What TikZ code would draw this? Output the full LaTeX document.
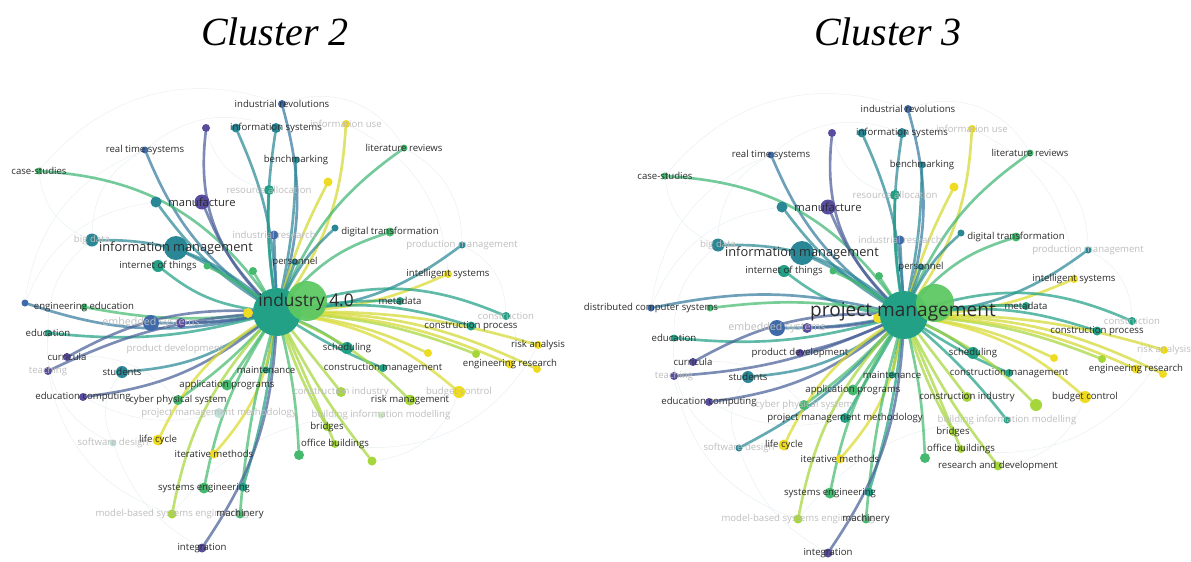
\documentclass[tikz,border=0pt]{standalone}
\usepackage{fontspec}
\setmainfont{Liberation Serif}
\newfontfamily\kwfont{Open Sans}
\usetikzlibrary{backgrounds}
\definecolor{cpurple}{HTML}{574C9E}
\definecolor{cblue}{HTML}{3E6AAA}
\definecolor{cteal}{HTML}{2A8896}
\definecolor{cteal2}{HTML}{21A085}
\definecolor{cgreen}{HTML}{45BA6E}
\definecolor{clime}{HTML}{A5D63A}
\definecolor{cyellow}{HTML}{EFDC22}
\definecolor{chub}{HTML}{22A187}
\definecolor{chubg}{HTML}{5DC863}
\definecolor{cpale}{HTML}{BFDFD9}
\definecolor{cpaleg}{HTML}{D3EBC8}
\definecolor{cweb}{HTML}{EAF0F4}
\definecolor{cfaint}{HTML}{BDBDBD}
\definecolor{ctext}{HTML}{2B2B2B}

\begin{document}
\begin{tikzpicture}[
  x=0.75pt, y=-0.75pt,
  dot/.style={circle, inner sep=0pt, minimum size=#1*0.75pt},
  kw/.style={font=\kwfont\fontsize{7.2}{8}\selectfont, text=ctext, inner sep=0pt},
  faintkw/.style={kw, text=cfaint},
  bigkw/.style={kw, font=\kwfont\fontsize{9.6}{11}\selectfont},
  midkw/.style={kw, font=\kwfont\fontsize{8.4}{10}\selectfont},
  hubkw/.style={kw, font=\kwfont\fontsize{#1}{16}\selectfont},
  kwlink/.style={line width=2pt, opacity=0.72, line cap=round},
  web/.style={line width=0.4pt, draw=cweb},
  clustertitle/.style={font=\itshape\fontsize{30}{34}\selectfont, anchor=base, inner sep=0pt}
]
  \useasboundingbox (0,0) rectangle (1191,561);

  % Titles
  \node[clustertitle] (title-L) at (275,45) {Cluster 2};
  \node[clustertitle] (title-R) at (888,45) {Cluster 3};

  %%%%%%%%%%%%%%%% Cluster 2 %%%%%%%%%%%%%%%%
  % Keyword dots
  \node[dot=10, fill=cyellow] (L-yhub) at (248,313) {};
  \node[dot=48, fill=chub] (L-hub) at (277,312) {};
  \node[dot=40, fill=chubg, opacity=0.95] (L-hubg) at (307,301) {};
  \node[dot=8, fill=cblue] (L-indrev) at (282,104) {};
  \node[dot=8, fill=cpurple] (L-p1) at (206,128) {};
  \node[dot=9, fill=cteal] (L-infsysb) at (236,128) {};
  \node[dot=10, fill=cteal] (L-infsys) at (276,128) {};
  \node[dot=8, fill=cyellow] (L-infuse) at (346,124) {};
  \node[dot=7, fill=cblue] (L-realtime) at (145,150) {};
  \node[dot=7, fill=cgreen] (L-litrev) at (404,148) {};
  \node[dot=7, fill=cgreen] (L-casest) at (39,171) {};
  \node[dot=7, fill=cteal] (L-bench) at (296,160) {};
  \node[dot=9, fill=cyellow] (L-yA) at (328,182) {};
  \node[dot=10, fill=cteal2] (L-resalloc) at (269,190) {};
  \node[dot=11, fill=cteal] (L-manufb) at (156,202) {};
  \node[dot=15, fill=cpurple] (L-manuf) at (202,202) {};
  \node[dot=9, fill=cblue] (L-indres) at (274,235) {};
  \node[dot=7, fill=cteal] (L-digtransb) at (335,228) {};
  \node[dot=9, fill=cgreen] (L-digtrans) at (390,232) {};
  \node[dot=13, fill=cteal] (L-bigdata) at (92,240) {};
  \node[dot=24, fill=cteal] (L-infman) at (176,248) {};
  \node[dot=7, fill=cteal] (L-prodman) at (462,245) {};
  \node[dot=12, fill=cteal2] (L-iot) at (158,266) {};
  \node[dot=7, fill=cgreen] (L-gA) at (207,266) {};
  \node[dot=8, fill=cgreen] (L-gB) at (253,271) {};
  \node[dot=7, fill=cteal] (L-personnel) at (295,262) {};
  \node[dot=8, fill=cyellow] (L-intsys) at (448,274) {};
  \node[dot=8, fill=cteal2] (L-metadata) at (400,301) {};
  \node[dot=8, fill=cteal2] (L-constr) at (506,316) {};
  \node[dot=9, fill=cteal2] (L-conproc) at (471,326) {};
  \node[dot=7, fill=cblue] (L-engedub) at (25,303) {};
  \node[dot=7, fill=cgreen] (L-engedu) at (84,307) {};
  \node[dot=16, fill=cblue] (L-embsys) at (151,323) {};
  \node[dot=10, fill=cpurple] (L-embsysp) at (181,323) {};
  \node[dot=7, fill=cteal2] (L-edu) at (48,333) {};
  \node[dot=12, fill=cteal2] (L-sched) at (347,348) {};
  \node[dot=8, fill=cyellow] (L-riskan) at (538,345) {};
  \node[dot=8, fill=cyellow] (L-yB) at (428,353) {};
  \node[dot=8, fill=clime] (L-gC) at (476,354) {};
  \node[dot=9, fill=cyellow] (L-engres) at (510,364) {};
  \node[dot=8, fill=cyellow] (L-engresb) at (537,369) {};
  \node[dot=8, fill=cpurple] (L-curr) at (67,357) {};
  \node[dot=8, fill=cpurple] (L-teach) at (48,371) {};
  \node[dot=12, fill=cteal] (L-students) at (122,372) {};
  \node[dot=7, fill=cteal2] (L-maint) at (266,370) {};
  \node[dot=8, fill=cteal2] (L-conman) at (383,368) {};
  \node[dot=10, fill=clime] (L-conind) at (341,392) {};
  \node[dot=12, fill=cyellow] (L-budget) at (459,392) {};
  \node[dot=11, fill=cgreen] (L-appprog) at (227,385) {};
  \node[dot=11, fill=clime] (L-riskman) at (410,400) {};
  \node[dot=8, fill=cpurple] (L-educomp) at (83,397) {};
  \node[dot=10, fill=cgreen] (L-cps) at (178,400) {};
  \node[dot=10, fill=cpale] (L-pmm) at (219,413) {};
  \node[dot=7, fill=cpaleg] (L-bim) at (381,415) {};
  \node[dot=7, fill=cpale] (L-softdes) at (113,443) {};
  \node[dot=11, fill=cyellow] (L-lifecycle) at (158,440) {};
  \node[dot=8, fill=clime] (L-bridges) at (327,427) {};
  \node[dot=8, fill=clime] (L-office) at (335,444) {};
  \node[dot=10, fill=cgreen] (L-gD) at (299,455) {};
  \node[dot=9, fill=clime] (L-gE) at (372,461) {};
  \node[dot=9, fill=cyellow] (L-itermeth) at (214,454) {};
  \node[dot=11, fill=cgreen] (L-syseng) at (204,488) {};
  \node[dot=9, fill=cteal2] (L-sysengb) at (243,487) {};
  \node[dot=9, fill=clime] (L-mbse) at (172,514) {};
  \node[dot=9, fill=cgreen] (L-machinery) at (240,514) {};
  \node[dot=9, fill=cpurple] (L-integ) at (202,548) {};

  % Keyword labels
  \node[hubkw=13] (L-hub-t) at (306,302) {industry 4.0};
  \node[kw] (L-indrev-t) at (L-indrev) {industrial revolutions};
  \node[kw] (L-infsys-t) at (L-infsys) {information systems};
  \node[faintkw] (L-infuse-t) at (L-infuse) {information use};
  \node[kw] (L-realtime-t) at (L-realtime) {real time systems};
  \node[kw] (L-litrev-t) at (L-litrev) {literature reviews};
  \node[kw] (L-casest-t) at (L-casest) {case-studies};
  \node[kw] (L-bench-t) at (L-bench) {benchmarking};
  \node[faintkw] (L-resalloc-t) at (L-resalloc) {resource allocation};
  \node[midkw] (L-manuf-t) at (L-manuf) {manufacture};
  \node[faintkw] (L-indres-t) at (L-indres) {industrial research};
  \node[kw] (L-digtrans-t) at (L-digtrans) {digital transformation};
  \node[faintkw] (L-bigdata-t) at (L-bigdata) {big data};
  \node[bigkw] (L-infman-t) at (L-infman) {information management};
  \node[faintkw] (L-prodman-t) at (L-prodman) {production management};
  \node[kw] (L-iot-t) at (L-iot) {internet of things};
  \node[kw] (L-personnel-t) at (L-personnel) {personnel};
  \node[kw] (L-intsys-t) at (L-intsys) {intelligent systems};
  \node[kw] (L-metadata-t) at (L-metadata) {metadata};
  \node[faintkw] (L-constr-t) at (L-constr) {construction};
  \node[kw] (L-conproc-t) at (L-conproc) {construction process};
  \node[kw] (L-engedu-t) at (L-engedu) {engineering education};
  \node[faintkw, font=\kwfont\fontsize{8}{9}\selectfont] (L-embsys-t) at (L-embsys) {embedded systems};
  \node[kw] (L-edu-t) at (L-edu) {education};
  \node[faintkw] (L-proddev-t) at (175,349) {product development};
  \node[kw] (L-sched-t) at (L-sched) {scheduling};
  \node[kw] (L-riskan-t) at (L-riskan) {risk analysis};
  \node[kw] (L-engres-t) at (L-engres) {engineering research};
  \node[kw] (L-curr-t) at (L-curr) {curricula};
  \node[faintkw] (L-teach-t) at (L-teach) {teaching};
  \node[kw] (L-students-t) at (L-students) {students};
  \node[kw] (L-maint-t) at (L-maint) {maintenance};
  \node[kw] (L-conman-t) at (L-conman) {construction management};
  \node[faintkw] (L-conind-t) at (L-conind) {construction industry};
  \node[faintkw] (L-budget-t) at (L-budget) {budget control};
  \node[kw] (L-appprog-t) at (L-appprog) {application programs};
  \node[kw] (L-riskman-t) at (L-riskman) {risk management};
  \node[kw] (L-educomp-t) at (L-educomp) {education computing};
  \node[kw] (L-cps-t) at (L-cps) {cyber physical system};
  \node[faintkw] (L-pmm-t) at (L-pmm) {project management methodology};
  \node[faintkw] (L-bim-t) at (L-bim) {building information modelling};
  \node[faintkw] (L-softdes-t) at (L-softdes) {software design};
  \node[kw] (L-lifecycle-t) at (L-lifecycle) {life cycle};
  \node[kw] (L-bridges-t) at (L-bridges) {bridges};
  \node[kw] (L-office-t) at (L-office) {office buildings};
  \node[kw] (L-itermeth-t) at (L-itermeth) {iterative methods};
  \node[kw] (L-syseng-t) at (L-syseng) {systems engineering};
  \node[faintkw] (L-mbse-t) at (L-mbse) {model-based systems engineering};
  \node[kw] (L-machinery-t) at (L-machinery) {machinery};
  \node[kw] (L-integ-t) at (L-integ) {integration};

  \begin{scope}[on background layer]
    % Faint co-occurrence web
    \draw[web] (L-casest) to[bend right=30] (L-bigdata) (L-casest) to[bend left=35] (L-indrev)
      (L-bigdata) to[bend right=25] (L-edu) (L-realtime) to[bend left=30] (L-infsys)
      (L-edu) to[bend right=35] (L-softdes) (L-teach) to[bend right=30] (L-mbse)
      (L-softdes) to[bend right=20] (L-integ) (L-engedub) to[bend left=30] (L-realtime)
      (L-litrev) to[bend left=30] (L-prodman) (L-prodman) to[bend left=30] (L-constr)
      (L-constr) to[bend left=30] (L-engres) (L-riskan) to[bend left=35] (L-office)
      (L-bim) to[bend right=25] (L-mbse) (L-indrev) to[bend left=40] (L-litrev)
      (L-infuse) to[bend left=30] (L-intsys) (L-pmm) to[bend left=20] (L-educomp)
      (L-manufb) to[bend right=30] (L-engedub) (L-students) to[bend right=30] (L-softdes)
      (L-curr) to[bend left=25] (L-cps) (L-resalloc) to[bend left=30] (L-p1)
      (L-budget) to[bend left=30] (L-gE) (L-bigdata) to[bend left=30] (L-realtime);

    % Links from industry 4.0
    \draw[kwlink, draw=cblue!75!chub] (L-hub) to[bend right=15] (L-indrev);
    \draw[kwlink, draw=cpurple!80!chub] (L-hub) to[bend left=25] (L-p1);
    \draw[kwlink, draw=cteal] (L-hub) to[bend right=10] (L-infsysb);
    \draw[kwlink, draw=cteal] (L-hub) to[bend left=8] (L-infsys);
    \draw[kwlink, draw=cyellow!80!chubg] (L-hub) to[bend right=15] (L-infuse);
    \draw[kwlink, draw=cblue!70!chub] (L-hub) to[bend left=15] (L-realtime);
    \draw[kwlink, draw=cgreen!80!chub] (L-hub) to[bend left=15] (L-litrev);
    \draw[kwlink, draw=cgreen!80!chub] (L-hub) to[bend right=25] (L-casest);
    \draw[kwlink, draw=cteal] (L-hub) to[bend right=5] (L-bench);
    \draw[kwlink, draw=cyellow!80!chubg] (L-hub) to[bend left=5] (L-yA);
    \draw[kwlink, draw=cteal2] (L-hub) to[bend left=5] (L-resalloc);
    \draw[kwlink, draw=cteal] (L-hub) to[bend left=10] (L-manufb);
    \draw[kwlink, draw=cpurple!75!chub] (L-hub) to[bend left=10] (L-manuf);
    \draw[kwlink, draw=cblue!70!chub] (L-hub) -- (L-indres);
    \draw[kwlink, draw=cteal] (L-hub) to[bend left=10] (L-digtransb);
    \draw[kwlink, draw=cgreen!80!chub] (L-hub) to[bend left=15] (L-digtrans);
    \draw[kwlink, draw=cteal] (L-hub) to[bend right=20] (L-bigdata);
    \draw[kwlink, draw=cteal] (L-hub) to[bend right=5] (L-infman);
    \draw[kwlink, draw=cteal] (L-hub) to[bend right=15] (L-prodman);
    \draw[kwlink, draw=cteal2] (L-hub) to[bend left=15] (L-iot);
    \draw[kwlink, draw=cgreen] (L-hub) to[bend right=5] (L-gA);
    \draw[kwlink, draw=cgreen] (L-hub) -- (L-gB);
    \draw[kwlink, draw=cteal] (L-hub) -- (L-personnel);
    \draw[kwlink, draw=cyellow!85!chubg] (L-hub) to[bend right=10] (L-intsys);
    \draw[kwlink, draw=cteal2] (L-hub) to[bend left=5] (L-metadata);
    \draw[kwlink, draw=cteal2] (L-hub) to[bend left=20] (L-constr);
    \draw[kwlink, draw=cteal2] (L-hub) to[bend left=12] (L-conproc);
    \draw[kwlink, draw=cblue!70!chub] (L-hub) to[bend left=15] (L-engedub);
    \draw[kwlink, draw=cgreen] (L-hub) to[bend left=8] (L-engedu);
    \draw[kwlink, draw=cblue!70!chub] (L-hub) to[bend left=5] (L-embsys);
    \draw[kwlink, draw=cpurple!75!chub] (L-hub) to[bend left=5] (L-embsysp);
    \draw[kwlink, draw=cteal2] (L-hub) to[bend left=10] (L-edu);
    \draw[kwlink, draw=cteal2] (L-hub) to[bend left=5] (L-sched);
    \draw[kwlink, draw=cyellow!80!chubg] (L-hub) to[bend left=8] (L-riskan);
    \draw[kwlink, draw=cyellow!80!chubg] (L-hub) to[bend left=8] (L-yB);
    \draw[kwlink, draw=clime] (L-hub) to[bend left=8] (L-gC);
    \draw[kwlink, draw=cyellow!80!chubg] (L-hub) to[bend left=10] (L-engres);
    \draw[kwlink, draw=cyellow!80!chubg] (L-hub) to[bend left=12] (L-engresb);
    \draw[kwlink, draw=cpurple!75!chub] (L-hub) to[bend right=15] (L-curr);
    \draw[kwlink, draw=cpurple!75!chub] (L-hub) to[bend right=10] (L-teach);
    \draw[kwlink, draw=cteal] (L-hub) to[bend left=15] (L-students);
    \draw[kwlink, draw=cteal2] (L-hub) -- (L-maint);
    \draw[kwlink, draw=cteal2] (L-hub) to[bend right=5] (L-conman);
    \draw[kwlink, draw=clime] (L-hub) -- (L-conind);
    \draw[kwlink, draw=cyellow!85!chubg] (L-hub) to[bend left=15] (L-budget);
    \draw[kwlink, draw=cgreen] (L-hub) -- (L-appprog);
    \draw[kwlink, draw=clime] (L-hub) to[bend left=10] (L-riskman);
    \draw[kwlink, draw=cpurple!75!chub] (L-hub) to[bend left=15] (L-educomp);
    \draw[kwlink, draw=cgreen] (L-hub) to[bend left=5] (L-cps);
    \draw[kwlink, draw=cyellow!85!chubg] (L-hub) to[bend right=15] (L-lifecycle);
    \draw[kwlink, draw=clime] (L-hub) to[bend right=5] (L-bridges);
    \draw[kwlink, draw=clime] (L-hub) -- (L-office);
    \draw[kwlink, draw=cgreen] (L-hub) to[bend left=5] (L-gD);
    \draw[kwlink, draw=clime] (L-hub) to[bend right=5] (L-gE);
    \draw[kwlink, draw=cyellow!85!chubg] (L-hub) to[bend left=15] (L-itermeth);
    \draw[kwlink, draw=cgreen] (L-hub) to[bend right=10] (L-syseng);
    \draw[kwlink, draw=cteal2] (L-hub) to[bend left=5] (L-sysengb);
    \draw[kwlink, draw=clime] (L-hub) to[bend right=15] (L-mbse);
    \draw[kwlink, draw=cgreen] (L-hub) to[bend right=5] (L-machinery);
    \draw[kwlink, draw=cpurple!75!chub] (L-hub) to[bend left=15] (L-integ);
  \end{scope}

  %%%%%%%%%%%%%%%% Cluster 3 %%%%%%%%%%%%%%%%
  \begin{scope}[shift={(626,5)}]
  % Keyword dots
  \node[dot=10, fill=cyellow] (R-yhub) at (252,313) {};
  \node[dot=48, fill=chub] (R-hub) at (278,310) {};
  \node[dot=38, fill=chubg, opacity=0.95] (R-hubg) at (309,298) {};
  \node[dot=8, fill=cblue] (R-indrev) at (282,104) {};
  \node[dot=8, fill=cpurple] (R-p1) at (206,128) {};
  \node[dot=9, fill=cteal] (R-infsysb) at (236,128) {};
  \node[dot=10, fill=cteal] (R-infsys) at (276,128) {};
  \node[dot=8, fill=cyellow] (R-infuse) at (346,124) {};
  \node[dot=7, fill=cblue] (R-realtime) at (145,150) {};
  \node[dot=7, fill=cgreen] (R-litrev) at (404,148) {};
  \node[dot=7, fill=cgreen] (R-casest) at (39,171) {};
  \node[dot=7, fill=cteal] (R-bench) at (296,160) {};
  \node[dot=9, fill=cyellow] (R-yA) at (328,182) {};
  \node[dot=10, fill=cteal2] (R-resalloc) at (269,190) {};
  \node[dot=11, fill=cteal] (R-manufb) at (156,202) {};
  \node[dot=15, fill=cpurple] (R-manuf) at (202,202) {};
  \node[dot=9, fill=cblue] (R-indres) at (274,235) {};
  \node[dot=7, fill=cteal] (R-digtransb) at (335,228) {};
  \node[dot=9, fill=cgreen] (R-digtrans) at (390,232) {};
  \node[dot=13, fill=cteal] (R-bigdata) at (92,240) {};
  \node[dot=24, fill=cteal] (R-infman) at (176,248) {};
  \node[dot=7, fill=cteal] (R-prodman) at (462,245) {};
  \node[dot=12, fill=cteal2] (R-iot) at (158,266) {};
  \node[dot=7, fill=cgreen] (R-gA) at (207,266) {};
  \node[dot=8, fill=cgreen] (R-gB) at (253,271) {};
  \node[dot=7, fill=cteal] (R-personnel) at (295,262) {};
  \node[dot=8, fill=cyellow] (R-intsys) at (448,274) {};
  \node[dot=8, fill=cteal2] (R-metadata) at (400,301) {};
  \node[dot=8, fill=cteal2] (R-constr) at (506,316) {};
  \node[dot=9, fill=cteal2] (R-conproc) at (471,326) {};
  \node[dot=7, fill=cblue] (R-discomp) at (25,303) {};
  \node[dot=7, fill=cgreen] (R-gF) at (84,303) {};
  \node[dot=16, fill=cblue] (R-embsys) at (151,323) {};
  \node[dot=10, fill=cpurple] (R-embsysp) at (181,323) {};
  \node[dot=7, fill=cteal2] (R-edu) at (48,333) {};
  \node[dot=8, fill=cpurple] (R-proddev) at (174,348) {};
  \node[dot=12, fill=cteal2] (R-sched) at (347,348) {};
  \node[dot=8, fill=cyellow] (R-riskan) at (538,345) {};
  \node[dot=8, fill=cyellow] (R-yB) at (428,353) {};
  \node[dot=8, fill=clime] (R-gC) at (476,354) {};
  \node[dot=9, fill=cyellow] (R-engres) at (510,364) {};
  \node[dot=8, fill=cyellow] (R-engresb) at (537,369) {};
  \node[dot=8, fill=cpurple] (R-curr) at (67,357) {};
  \node[dot=8, fill=cpurple] (R-teach) at (48,371) {};
  \node[dot=12, fill=cteal] (R-students) at (122,372) {};
  \node[dot=7, fill=cteal2] (R-maint) at (266,370) {};
  \node[dot=8, fill=cteal2] (R-conman) at (383,368) {};
  \node[dot=10, fill=clime] (R-conind) at (341,392) {};
  \node[dot=12, fill=cyellow] (R-budget) at (459,392) {};
  \node[dot=11, fill=cgreen] (R-appprog) at (227,385) {};
  \node[dot=12, fill=clime] (R-riskman) at (410,400) {};
  \node[dot=8, fill=cpurple] (R-educomp) at (83,397) {};
  \node[dot=10, fill=cgreen] (R-cps) at (178,400) {};
  \node[dot=10, fill=cteal2] (R-pmm) at (219,413) {};
  \node[dot=7, fill=cteal2] (R-bim) at (381,415) {};
  \node[dot=7, fill=cteal] (R-softdes) at (113,443) {};
  \node[dot=11, fill=cyellow] (R-lifecycle) at (158,440) {};
  \node[dot=8, fill=clime] (R-bridges) at (327,427) {};
  \node[dot=8, fill=clime] (R-office) at (335,444) {};
  \node[dot=10, fill=cgreen] (R-gD) at (299,453) {};
  \node[dot=9, fill=clime] (R-resdev) at (372,461) {};
  \node[dot=9, fill=cyellow] (R-itermeth) at (214,454) {};
  \node[dot=11, fill=cgreen] (R-syseng) at (204,488) {};
  \node[dot=9, fill=cteal2] (R-sysengb) at (243,487) {};
  \node[dot=9, fill=clime] (R-mbse) at (172,514) {};
  \node[dot=9, fill=cgreen] (R-machinery) at (240,514) {};
  \node[dot=9, fill=cpurple] (R-integ) at (202,548) {};

  % Keyword labels
  \node[hubkw=14.3] (R-hub-t) at (277,307) {project management};
  \node[kw] (R-indrev-t) at (R-indrev) {industrial revolutions};
  \node[kw] (R-infsys-t) at (R-infsys) {information systems};
  \node[faintkw] (R-infuse-t) at (R-infuse) {information use};
  \node[kw] (R-realtime-t) at (R-realtime) {real time systems};
  \node[kw] (R-litrev-t) at (R-litrev) {literature reviews};
  \node[kw] (R-casest-t) at (R-casest) {case-studies};
  \node[kw] (R-bench-t) at (R-bench) {benchmarking};
  \node[faintkw] (R-resalloc-t) at (R-resalloc) {resource allocation};
  \node[midkw] (R-manuf-t) at (R-manuf) {manufacture};
  \node[faintkw] (R-indres-t) at (R-indres) {industrial research};
  \node[kw] (R-digtrans-t) at (R-digtrans) {digital transformation};
  \node[faintkw] (R-bigdata-t) at (R-bigdata) {big data};
  \node[bigkw] (R-infman-t) at (R-infman) {information management};
  \node[faintkw] (R-prodman-t) at (R-prodman) {production management};
  \node[kw] (R-iot-t) at (R-iot) {internet of things};
  \node[kw] (R-personnel-t) at (R-personnel) {personnel};
  \node[kw] (R-intsys-t) at (R-intsys) {intelligent systems};
  \node[kw] (R-metadata-t) at (R-metadata) {metadata};
  \node[faintkw] (R-constr-t) at (R-constr) {construction};
  \node[kw] (R-conproc-t) at (R-conproc) {construction process};
  \node[kw] (R-discomp-t) at (R-discomp) {distributed computer systems};
  \node[faintkw, font=\kwfont\fontsize{8}{9}\selectfont] (R-embsys-t) at (R-embsys) {embedded systems};
  \node[kw] (R-edu-t) at (R-edu) {education};
  \node[kw] (R-proddev-t) at (R-proddev) {product development};
  \node[kw] (R-sched-t) at (R-sched) {scheduling};
  \node[faintkw] (R-riskan-t) at (R-riskan) {risk analysis};
  \node[kw] (R-engres-t) at (R-engres) {engineering research};
  \node[kw] (R-curr-t) at (R-curr) {curricula};
  \node[faintkw] (R-teach-t) at (R-teach) {teaching};
  \node[kw] (R-students-t) at (R-students) {students};
  \node[kw] (R-maint-t) at (R-maint) {maintenance};
  \node[kw] (R-conman-t) at (R-conman) {construction management};
  \node[kw] (R-conind-t) at (R-conind) {construction industry};
  \node[kw] (R-budget-t) at (R-budget) {budget control};
  \node[kw] (R-appprog-t) at (R-appprog) {application programs};
  \node[kw] (R-educomp-t) at (R-educomp) {education computing};
  \node[faintkw] (R-cps-t) at (R-cps) {cyber physical system};
  \node[kw] (R-pmm-t) at (R-pmm) {project management methodology};
  \node[faintkw] (R-bim-t) at (R-bim) {building information modelling};
  \node[faintkw] (R-softdes-t) at (R-softdes) {software design};
  \node[kw] (R-lifecycle-t) at (R-lifecycle) {life cycle};
  \node[kw] (R-bridges-t) at (R-bridges) {bridges};
  \node[kw] (R-office-t) at (R-office) {office buildings};
  \node[kw] (R-resdev-t) at (R-resdev) {research and development};
  \node[kw] (R-itermeth-t) at (R-itermeth) {iterative methods};
  \node[kw] (R-syseng-t) at (R-syseng) {systems engineering};
  \node[faintkw] (R-mbse-t) at (R-mbse) {model-based systems engineering};
  \node[kw] (R-machinery-t) at (R-machinery) {machinery};
  \node[kw] (R-integ-t) at (R-integ) {integration};
  \end{scope}

  \begin{scope}[on background layer]
    % Faint co-occurrence web
    \draw[web] (R-casest) to[bend right=30] (R-bigdata) (R-casest) to[bend left=35] (R-indrev)
      (R-bigdata) to[bend right=25] (R-edu) (R-realtime) to[bend left=30] (R-infsys)
      (R-edu) to[bend right=35] (R-softdes) (R-teach) to[bend right=30] (R-mbse)
      (R-softdes) to[bend right=20] (R-integ) (R-discomp) to[bend left=30] (R-realtime)
      (R-litrev) to[bend left=30] (R-prodman) (R-prodman) to[bend left=30] (R-constr)
      (R-constr) to[bend left=30] (R-engres) (R-riskan) to[bend left=35] (R-office)
      (R-bim) to[bend right=25] (R-mbse) (R-indrev) to[bend left=40] (R-litrev)
      (R-infuse) to[bend left=30] (R-intsys) (R-pmm) to[bend left=20] (R-educomp)
      (R-manufb) to[bend right=30] (R-discomp) (R-students) to[bend right=30] (R-softdes)
      (R-curr) to[bend left=25] (R-cps) (R-resalloc) to[bend left=30] (R-p1)
      (R-budget) to[bend left=30] (R-resdev) (R-bigdata) to[bend left=30] (R-realtime);

    % Links from project management
    \draw[kwlink, draw=cblue!75!chub] (R-hub) to[bend right=15] (R-indrev);
    \draw[kwlink, draw=cpurple!80!chub] (R-hub) to[bend left=25] (R-p1);
    \draw[kwlink, draw=cteal] (R-hub) to[bend right=10] (R-infsysb);
    \draw[kwlink, draw=cteal] (R-hub) to[bend left=8] (R-infsys);
    \draw[kwlink, draw=cyellow!80!chubg] (R-hub) to[bend right=15] (R-infuse);
    \draw[kwlink, draw=cblue!70!chub] (R-hub) to[bend left=15] (R-realtime);
    \draw[kwlink, draw=cgreen!80!chub] (R-hub) to[bend left=15] (R-litrev);
    \draw[kwlink, draw=cgreen!80!chub] (R-hub) to[bend right=25] (R-casest);
    \draw[kwlink, draw=cteal] (R-hub) to[bend right=5] (R-bench);
    \draw[kwlink, draw=cyellow!80!chubg] (R-hub) to[bend left=5] (R-yA);
    \draw[kwlink, draw=cteal2] (R-hub) to[bend left=5] (R-resalloc);
    \draw[kwlink, draw=cteal] (R-hub) to[bend left=10] (R-manufb);
    \draw[kwlink, draw=cpurple!75!chub] (R-hub) to[bend left=10] (R-manuf);
    \draw[kwlink, draw=cblue!70!chub] (R-hub) -- (R-indres);
    \draw[kwlink, draw=cteal] (R-hub) to[bend left=10] (R-digtransb);
    \draw[kwlink, draw=cgreen!80!chub] (R-hub) to[bend left=15] (R-digtrans);
    \draw[kwlink, draw=cteal] (R-hub) to[bend right=20] (R-bigdata);
    \draw[kwlink, draw=cteal] (R-hub) to[bend right=5] (R-infman);
    \draw[kwlink, draw=cteal] (R-hub) to[bend right=15] (R-prodman);
    \draw[kwlink, draw=cteal2] (R-hub) to[bend left=15] (R-iot);
    \draw[kwlink, draw=cgreen] (R-hub) to[bend right=5] (R-gA);
    \draw[kwlink, draw=cgreen] (R-hub) -- (R-gB);
    \draw[kwlink, draw=cteal] (R-hub) -- (R-personnel);
    \draw[kwlink, draw=cyellow!85!chubg] (R-hub) to[bend right=10] (R-intsys);
    \draw[kwlink, draw=cteal2] (R-hub) to[bend left=5] (R-metadata);
    \draw[kwlink, draw=cteal2] (R-hub) to[bend left=20] (R-constr);
    \draw[kwlink, draw=cteal2] (R-hub) to[bend left=12] (R-conproc);
    \draw[kwlink, draw=cblue!70!chub] (R-hub) to[bend right=12] (R-discomp);
    \draw[kwlink, draw=cgreen] (R-hub) to[bend right=8] (R-gF);
    \draw[kwlink, draw=cblue!70!chub] (R-hub) to[bend left=5] (R-embsys);
    \draw[kwlink, draw=cpurple!75!chub] (R-hub) to[bend left=5] (R-embsysp);
    \draw[kwlink, draw=cteal2] (R-hub) to[bend left=10] (R-edu);
    \draw[kwlink, draw=cpurple!75!chub] (R-hub) to[bend left=5] (R-proddev);
    \draw[kwlink, draw=cteal2] (R-hub) to[bend left=5] (R-sched);
    \draw[kwlink, draw=cyellow!80!chubg] (R-hub) to[bend left=8] (R-riskan);
    \draw[kwlink, draw=cyellow!80!chubg] (R-hub) to[bend left=8] (R-yB);
    \draw[kwlink, draw=clime] (R-hub) to[bend left=8] (R-gC);
    \draw[kwlink, draw=cyellow!80!chubg] (R-hub) to[bend left=10] (R-engres);
    \draw[kwlink, draw=cyellow!80!chubg] (R-hub) to[bend left=12] (R-engresb);
    \draw[kwlink, draw=cpurple!75!chub] (R-hub) to[bend right=15] (R-curr);
    \draw[kwlink, draw=cpurple!75!chub] (R-hub) to[bend left=10] (R-teach);
    \draw[kwlink, draw=cteal] (R-hub) to[bend left=15] (R-students);
    \draw[kwlink, draw=cteal2] (R-hub) -- (R-maint);
    \draw[kwlink, draw=cteal2] (R-hub) to[bend right=5] (R-conman);
    \draw[kwlink, draw=clime] (R-hub) -- (R-conind);
    \draw[kwlink, draw=cyellow!85!chubg] (R-hub) to[bend left=15] (R-budget);
    \draw[kwlink, draw=cgreen] (R-hub) -- (R-appprog);
    \draw[kwlink, draw=clime] (R-hub) to[bend left=10] (R-riskman);
    \draw[kwlink, draw=cpurple!75!chub] (R-hub) to[bend left=15] (R-educomp);
    \draw[kwlink, draw=cgreen] (R-hub) to[bend left=5] (R-cps);
    \draw[kwlink, draw=cteal2] (R-hub) -- (R-pmm);
    \draw[kwlink, draw=cteal2] (R-hub) to[bend left=5] (R-bim);
    \draw[kwlink, draw=cteal] (R-hub) to[bend left=10] (R-softdes);
    \draw[kwlink, draw=cyellow!85!chubg] (R-hub) to[bend right=15] (R-lifecycle);
    \draw[kwlink, draw=clime] (R-hub) to[bend right=5] (R-bridges);
    \draw[kwlink, draw=clime] (R-hub) -- (R-office);
    \draw[kwlink, draw=cgreen] (R-hub) to[bend left=5] (R-gD);
    \draw[kwlink, draw=clime] (R-hub) to[bend right=5] (R-resdev);
    \draw[kwlink, draw=cyellow!85!chubg] (R-hub) to[bend left=15] (R-itermeth);
    \draw[kwlink, draw=cgreen] (R-hub) to[bend right=10] (R-syseng);
    \draw[kwlink, draw=cteal2] (R-hub) to[bend left=5] (R-sysengb);
    \draw[kwlink, draw=clime] (R-hub) to[bend right=15] (R-mbse);
    \draw[kwlink, draw=cgreen] (R-hub) to[bend right=5] (R-machinery);
    \draw[kwlink, draw=cpurple!75!chub] (R-hub) to[bend left=15] (R-integ);
  \end{scope}
\end{tikzpicture}
\end{document}
